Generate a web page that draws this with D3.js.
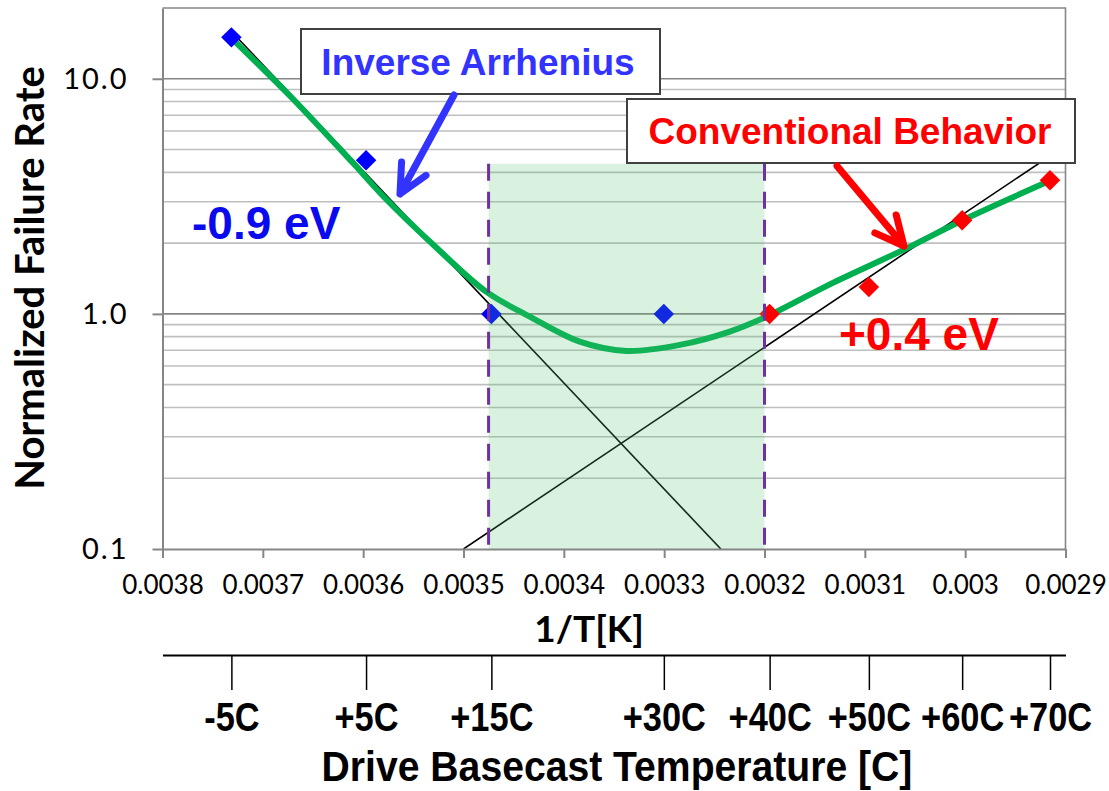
<!DOCTYPE html>
<html>
<head>
<meta charset="utf-8">
<script src="https://cdn.jsdelivr.net/npm/d3@7"></script>
<style>
  html, body { margin: 0; padding: 0; background: #fff; }
  svg { display: block; }
</style>
</head>
<body>
<div id="chart"></div>
<script>
// ---- data ----
var invTTicks = [0.0038, 0.0037, 0.0036, 0.0035, 0.0034, 0.0033, 0.0032, 0.0031, 0.003, 0.0029];
var rateTicks = [0.1, 1, 10];
var minorGrid = [0.2, 0.3, 0.4, 0.5, 0.6, 0.7, 0.8, 0.9, 2, 3, 4, 5, 6, 7, 8, 9];
var majorGrid = [1, 10];
var tempTicks = [-5, 5, 15, 30, 40, 50, 60, 70];
var tempLabels = ["-5C", "+5C", "+15C", "+30C", "+40C", "+50C", "+60C", "+70C"];

// measured points (blue = inverse Arrhenius side, red = conventional side)
var blueTemp = [-5, 5, 15, 30];
var blueRate = [15, 4.5, 1.0, 1.0];
var redTemp = [40, 50, 60, 70];
var redRate = [1.0, 1.3, 2.5, 3.7];

// green fitted curve, read point by point
var fitInvT = [0.0037313, 0.0036731, 0.0036103, 0.0035804, 0.0035269, 0.0034771, 0.0034339, 0.0033841,
               0.0033375, 0.0032844, 0.0032346, 0.003198, 0.0031319, 0.0030585, 0.003002, 0.0029156];
var fitRate = [14.9, 8.47, 4.39, 3.18, 1.91, 1.24, 0.974, 0.762,
               0.696, 0.738, 0.841, 0.974, 1.355, 1.90, 2.51, 3.68];

// straight activation lines (-0.9 eV and +0.4 eV)
var negLineInvT = [0.0037313, 0.0032435];
var negLineRate = [15.9, 0.1];
var posLineInvT = [0.0035, 0.0029];
var posLineRate = [0.1, 5.2];

// shaded band
var bandInvT = [0.003475, 0.0032];
var bandTop = 4.35;

var width = 1109, height = 791;
var plot = { left: 162.5, right: 1065.5, top: 8, bottom: 549 };

var x = d3.scaleLinear().domain([0.0038, 0.0029]).range([plot.left, plot.right]);
var y = d3.scaleLog().domain([0.1, 20]).range([plot.bottom, plot.top]);
var invT = function (c) { return 1 / (c + 273); };

var svg = d3.select("#chart").append("svg")
  .attr("width", width).attr("height", height)
  .attr("viewBox", [0, 0, width, height]);

svg.append("defs").append("clipPath").attr("id", "clip")
  .append("rect").attr("x", plot.left).attr("y", plot.top)
  .attr("width", plot.right - plot.left).attr("height", plot.bottom - plot.top);

// gridlines
svg.append("g").selectAll("line").data(minorGrid).join("line")
  .attr("x1", plot.left).attr("x2", plot.right)
  .attr("y1", d => y(d)).attr("y2", d => y(d))
  .attr("stroke", "#bfbfbf").attr("stroke-width", 1.6);
svg.append("g").selectAll("line").data(majorGrid).join("line")
  .attr("x1", plot.left).attr("x2", plot.right)
  .attr("y1", d => y(d)).attr("y2", d => y(d))
  .attr("stroke", "#868686").attr("stroke-width", 1.6);

// plot frame top + right
svg.append("path")
  .attr("d", `M${plot.left},${plot.top}H${plot.right}V${plot.bottom}`)
  .attr("fill", "none").attr("stroke", "#868686").attr("stroke-width", 1.6);

var body = svg.append("g").attr("clip-path", "url(#clip)");

var line = d3.line().x(d => x(d[0])).y(d => y(d[1]));

body.append("path").datum(d3.zip(negLineInvT, negLineRate))
  .attr("d", line).attr("fill", "none").attr("stroke", "#000").attr("stroke-width", 1.6);
body.append("path").datum(d3.zip(posLineInvT, posLineRate))
  .attr("d", line).attr("fill", "none").attr("stroke", "#000").attr("stroke-width", 1.6);

body.append("path").datum(d3.zip(fitInvT, fitRate))
  .attr("d", line.curve(d3.curveCatmullRom.alpha(0.5)))
  .attr("fill", "none").attr("stroke", "#00b050").attr("stroke-width", 6)
  .attr("stroke-linecap", "round");

var diamond = d3.symbol(d3.symbolSquare, 210);
svg.append("g").selectAll("path").data(d3.zip(blueTemp, blueRate)).join("path")
  .attr("d", diamond)
  .attr("transform", d => `translate(${x(invT(d[0]))},${y(d[1])}) rotate(45)`)
  .attr("fill", "#0000ff");
svg.append("g").selectAll("path").data(d3.zip(redTemp, redRate)).join("path")
  .attr("d", diamond)
  .attr("transform", d => `translate(${x(invT(d[0]))},${y(d[1])}) rotate(45)`)
  .attr("fill", "#ff0000");

// shaded window, drawn translucent over everything
svg.append("rect")
  .attr("x", x(bandInvT[0])).attr("y", y(bandTop))
  .attr("width", x(bandInvT[1]) - x(bandInvT[0]))
  .attr("height", plot.bottom - y(bandTop))
  .attr("fill", "rgb(80,190,110)").attr("fill-opacity", 0.22);

svg.append("g").selectAll("line").data(bandInvT).join("line")
  .attr("x1", d => x(d)).attr("x2", d => x(d))
  .attr("y1", y(bandTop)).attr("y2", plot.bottom)
  .attr("stroke", "#7030a0").attr("stroke-width", 3)
  .attr("stroke-dasharray", "17,11");

// axes
var xAxis = svg.append("g").attr("transform", `translate(0,${plot.bottom})`)
  .call(d3.axisBottom(x).tickValues(invTTicks).tickSize(9).tickSizeOuter(0).tickPadding(18)
    .tickFormat(d => String(+d.toFixed(4))));
var yAxis = svg.append("g").attr("transform", `translate(${plot.left},0)`)
  .call(d3.axisLeft(y).tickValues(rateTicks).tickSize(10).tickSizeOuter(0).tickPadding(24)
    .tickFormat(d3.format(".1f")));
[xAxis, yAxis].forEach(function (g) {
  g.select(".domain").attr("stroke", "#868686").attr("stroke-width", 2);
  g.selectAll(".tick line").attr("stroke", "#868686").attr("stroke-width", 2);
  g.selectAll(".tick text").attr("fill", "#000").attr("font-family", "Lato, 'Open Sans', sans-serif");
});
xAxis.selectAll(".tick text").attr("font-size", 26);
yAxis.selectAll(".tick text").attr("font-size", 29).attr("letter-spacing", 2);

svg.append("text")
  .attr("transform", "translate(44,278) rotate(-90)")
  .attr("text-anchor", "middle")
  .attr("font-family", "Lato, 'Open Sans', sans-serif").attr("font-weight", "bold")
  .attr("font-size", 40).text("Normalized Failure Rate");

svg.append("text")
  .attr("x", 589).attr("y", 642).attr("text-anchor", "middle")
  .attr("font-family", "Lato, 'Open Sans', sans-serif").attr("font-weight", "bold")
  .attr("font-size", 37).text("1/T[K]");

// secondary temperature axis (narrow bold face, squeezed from Liberation Sans)
var narrow = "'Liberation Sans Narrow', 'Liberation Sans', Arial, sans-serif";
var tAxis = svg.append("g").attr("transform", "translate(0,655)")
  .call(d3.axisBottom(x).tickValues(tempTicks.map(invT)).tickSize(35).tickSizeOuter(0).tickPadding(13)
    .tickFormat((d, i) => tempLabels[i]));
tAxis.select(".domain").attr("stroke", "#000").attr("stroke-width", 2);
tAxis.selectAll(".tick line").attr("stroke", "#000").attr("stroke-width", 1.5);
tAxis.selectAll(".tick text").attr("fill", "#000")
  .attr("font-family", narrow).attr("font-weight", "bold").attr("font-size", 40)
  .attr("transform", "scale(0.86,1)");

svg.append("g").attr("transform", "translate(617,781) scale(0.91,1)")
  .append("text").attr("text-anchor", "middle")
  .attr("font-family", narrow).attr("font-weight", "bold").attr("font-size", 43)
  .text("Drive Basecast Temperature [C]");

// annotations
var annoFont = "'Liberation Sans', Arial, sans-serif";
function box(x0, y0, x1, y1, label, color, tx, ty) {
  svg.append("rect").attr("x", x0).attr("y", y0).attr("width", x1 - x0).attr("height", y1 - y0)
    .attr("fill", "#fff").attr("stroke", "#404040").attr("stroke-width", 2);
  svg.append("text").attr("x", tx).attr("y", ty).attr("text-anchor", "middle")
    .attr("font-family", annoFont).attr("font-weight", "bold").attr("font-size", 37)
    .attr("fill", color).text(label);
}
box(301, 29, 660, 94, "Inverse Arrhenius", "#3333ff", 478, 75);
box(627, 99, 1075, 163, "Conventional Behavior", "#ff0000", 850, 144);

function arrow(x0, y0, x1, y1, color) {
  var a = Math.atan2(y0 - y1, x0 - x1), L = 32, s = 0.45;
  var p = `M${x0},${y0}L${x1},${y1}` +
    `M${x1 + L * Math.cos(a - s)},${y1 + L * Math.sin(a - s)}L${x1},${y1}` +
    `L${x1 + L * Math.cos(a + s)},${y1 + L * Math.sin(a + s)}`;
  svg.append("path").attr("d", p).attr("fill", "none").attr("stroke", color)
    .attr("stroke-width", 7).attr("stroke-linecap", "round").attr("stroke-linejoin", "round");
}
arrow(454, 95, 400, 194, "#3333ff");
arrow(837, 166, 904, 246, "#ff0000");

svg.append("text").attr("x", 192).attr("y", 239)
  .attr("font-family", annoFont).attr("font-weight", "bold").attr("font-size", 46)
  .attr("fill", "#0a0aee").text("-0.9 eV");
svg.append("text").attr("x", 839).attr("y", 350)
  .attr("font-family", annoFont).attr("font-weight", "bold").attr("font-size", 46)
  .attr("fill", "#ff0000").text("+0.4 eV");
</script>
</body>
</html>
